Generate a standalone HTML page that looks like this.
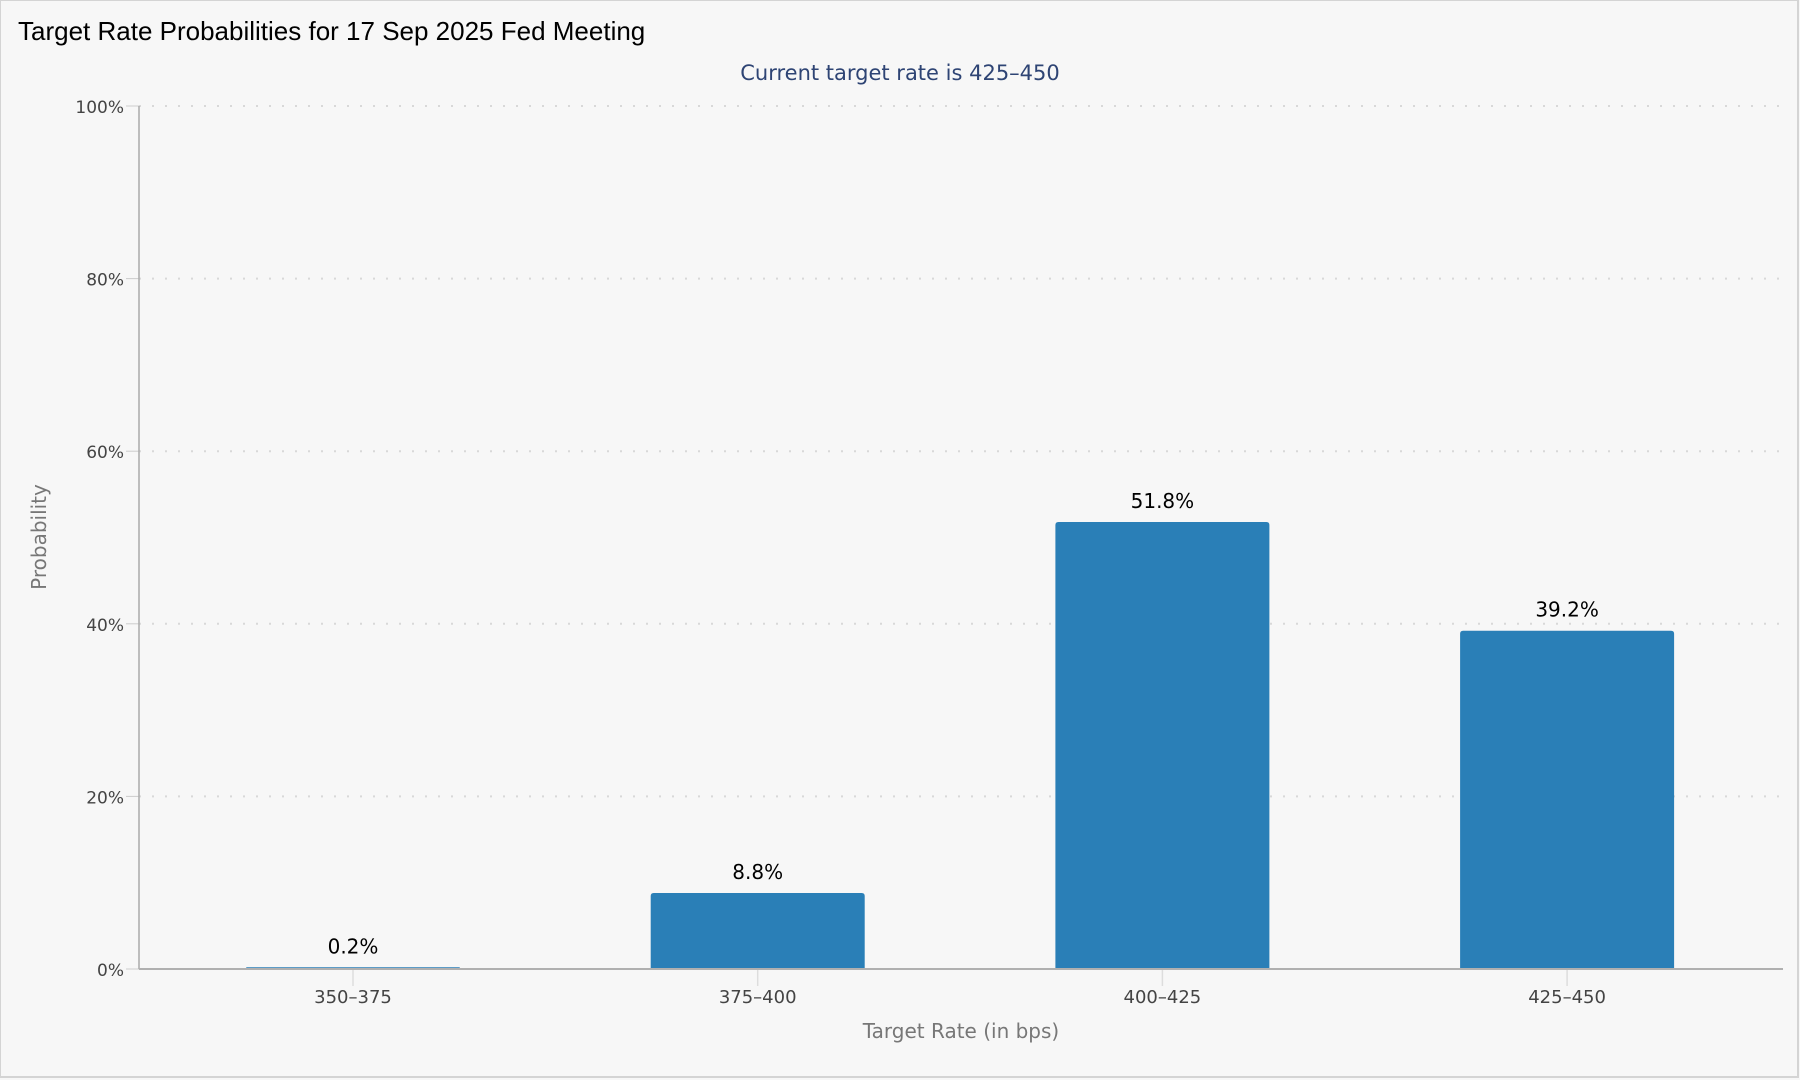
<!DOCTYPE html>
<html><head><meta charset="utf-8"><style>
html,body{margin:0;padding:0;background:#f7f7f7;}
body{width:1800px;height:1080px;overflow:hidden;position:relative;}
svg{position:absolute;left:0;top:0;}
</style></head><body>
<svg id="chart" width="1800" height="1080" xmlns="http://www.w3.org/2000/svg">
<rect x="0" y="0" width="1798" height="1077" fill="#f7f7f7" stroke="#d4d4d4" stroke-width="2"/>
<text x="18" y="40" font-family="Liberation Sans, sans-serif" font-size="26" fill="#000">Target Rate Probabilities for 17 Sep 2025 Fed Meeting</text>
<text x="900" y="80" text-anchor="middle" font-family="DejaVu Sans, sans-serif" font-size="21" fill="#2e4474">Current target rate is 425–450</text>
<text transform="translate(46,537) rotate(-90)" text-anchor="middle" font-family="DejaVu Sans, sans-serif" font-size="20" fill="#777">Probability</text>
<text x="961" y="1038" text-anchor="middle" font-family="DejaVu Sans, sans-serif" font-size="20" fill="#777">Target Rate (in bps)</text>
<g id="grid"></g><g id="bars"></g><g id="labels"></g>
</svg>
<script>
const categories = ["350–375","375–400","400–425","425–450"];
const values = [0.2, 8.8, 51.8, 39.2];
const yTicks = [0,20,40,60,80,100];
const NS="http://www.w3.org/2000/svg";
const svg=document.getElementById('chart');
const X0=139, X1=1783, Y0=969, Y100=106;
const yScale=v=>Y0-(v/100)*(Y0-Y100);
const step=404.7, firstC=353;
const xScale=i=>firstC+i*step;
const barW=214;
function mk(tag,attrs){const e=document.createElementNS(NS,tag);for(const k in attrs)e.setAttribute(k,attrs[k]);svg.appendChild(e);return e;}
yTicks.forEach(t=>{
  const y=yScale(t);
  const g=mk('line',{x1:X0,x2:X1,y1:y,y2:y,stroke:'#d8d8d8','stroke-width':2,'stroke-dasharray':'2,11'});
  
  
  const tk=mk('line',{x1:126,x2:X0,y1:y,y2:y,stroke:'#ccc','stroke-width':1});
  
  
  const lb=mk('text',{x:124,y:y+7,'text-anchor':'end','font-family':'DejaVu Sans, sans-serif','font-size':17,fill:'#444'});
  lb.textContent=t+'%';
  
  
});
const yl=mk('line',{x1:X0,x2:X0,y1:Y100,y2:Y0,stroke:'#aaa','stroke-width':1.5});


categories.forEach((c,i)=>{
  const cx=xScale(i), v=values[i], y=yScale(v), h=Y0-y;
  const r=Math.min(3,h/2);
  const p=mk('path',{d:`M${cx-barW/2},${Y0} L${cx-barW/2},${y+r} Q${cx-barW/2},${y} ${cx-barW/2+r},${y} L${cx+barW/2-r},${y} Q${cx+barW/2},${y} ${cx+barW/2},${y+r} L${cx+barW/2},${Y0} Z`,fill:'#2a7fb7'});
  
  
  const dl=mk('text',{x:cx,y:y-14,'text-anchor':'middle','font-family':'DejaVu Sans, sans-serif','font-size':20,fill:'#000'});
  dl.textContent=v.toFixed(1)+'%';
  
  
  const xt=mk('line',{x1:cx,x2:cx,y1:Y0,y2:Y0+17,stroke:'#ddd','stroke-width':1.5});
  
  
  const xl=mk('text',{x:cx,y:Y0+34,'text-anchor':'middle','font-family':'DejaVu Sans, sans-serif','font-size':18,fill:'#444'});
  xl.textContent=c;
  
  
});
const xa=mk('line',{x1:X0,x2:X1,y1:Y0,y2:Y0,stroke:'#b0b0b0','stroke-width':2});


</script>
</body></html>
